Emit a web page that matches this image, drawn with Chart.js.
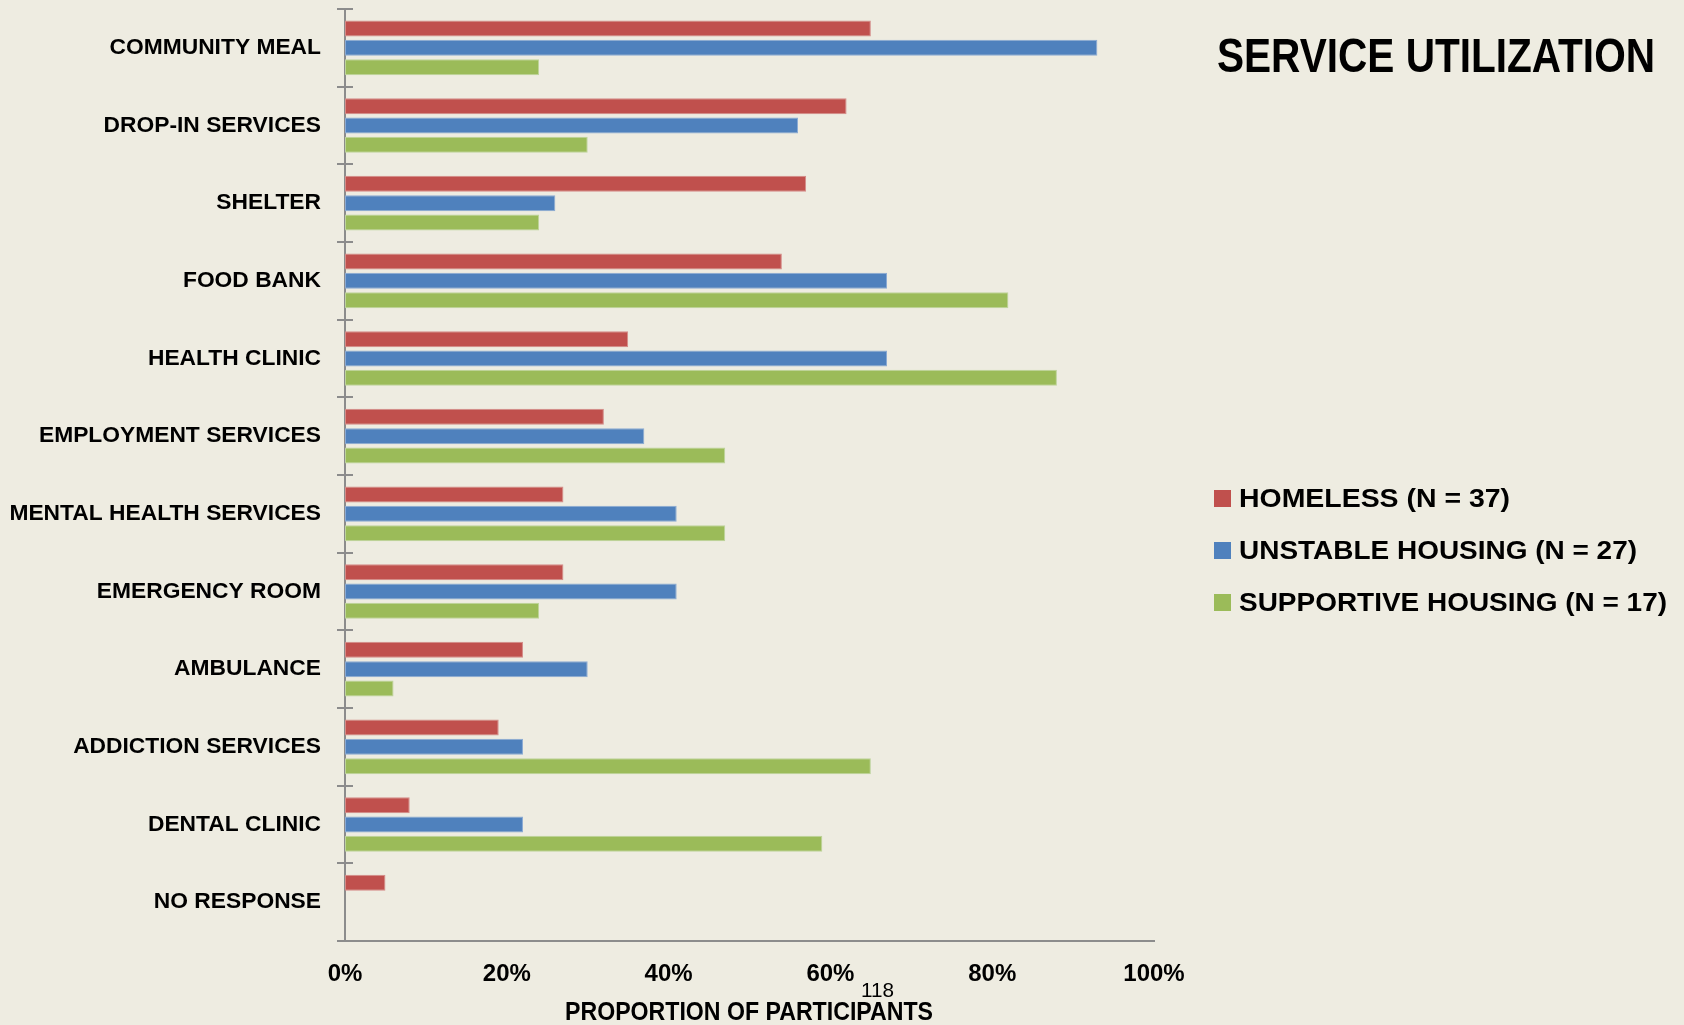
<!DOCTYPE html>
<html>
<head>
<meta charset="utf-8">
<title>Service Utilization</title>
<script src="https://cdn.jsdelivr.net/npm/chart.js@4.4.0/dist/chart.umd.min.js"></script>
<style>
  html, body { margin: 0; padding: 0; background: #EEECE1; }
  #wrap { position: relative; width: 1684px; height: 1025px; overflow: hidden; background: #EEECE1; }
  #service-chart { position: absolute; left: 0; top: 0; }
  .txt {
    position: absolute;
    white-space: nowrap;
    font-family: 'Liberation Sans', Arial, sans-serif;
    font-weight: bold;
    color: #000;
    line-height: 1;
    transform-origin: left top;
  }
  .swatch { position: absolute; width: 17px; height: 17px; }
</style>
</head>
<body>
<div id="wrap">
  <canvas id="service-chart" width="1684" height="1025"></canvas>
  <div id="chart-title" class="txt" style="left:1217px; top:31.8px; font-size:47.5px;">SERVICE UTILIZATION</div>
  <div id="legend"></div>
  <div id="axis-title" class="txt" style="top:998.8px; font-size:25px;">PROPORTION OF PARTICIPANTS</div>
  <div id="page-no" class="txt" style="top:979.2px; font-size:21px; font-weight:normal;">118</div>
</div>

<script>
const categories = [
    'COMMUNITY MEAL', 'DROP-IN SERVICES', 'SHELTER', 'FOOD BANK', 'HEALTH CLINIC',
    'EMPLOYMENT SERVICES', 'MENTAL HEALTH SERVICES', 'EMERGENCY ROOM', 'AMBULANCE',
    'ADDICTION SERVICES', 'DENTAL CLINIC', 'NO RESPONSE'
];

// percent of participants in each group who used the service
const homeless   = [65, 62, 57, 54, 35, 32, 27, 27, 22, 19, 8, 5];
const unstable   = [93, 56, 26, 67, 67, 37, 41, 41, 30, 22, 22, 0];
const supportive = [24, 30, 24, 82, 88, 47, 47, 24, 6, 65, 59, 0];

const seriesLabels = ['HOMELESS (N = 37)', 'UNSTABLE HOUSING (N = 27)', 'SUPPORTIVE HOUSING (N = 17)'];
const seriesColors = ['#C0504D', '#4F81BD', '#9BBB59'];
const seriesEdges  = ['#D48B88', '#8BAAD3', '#BDD39B'];

const xTicks = [0, 20, 40, 60, 80, 100];

const AXIS_GREY = '#8C8C8C';
const LABEL_FONT = 'Liberation Sans';

// short marks that cross the category axis at every band edge
const categoryMarks = {
    id: 'categoryMarks',
    afterDraw(chart) {
        const { ctx, scales: { x, y } } = chart;
        ctx.save();
        ctx.strokeStyle = AXIS_GREY;
        ctx.lineWidth = 2;
        for (let i = 0; i <= categories.length; i++) {
            const py = Math.round(y.getPixelForValue(i - 0.5));
            ctx.beginPath();
            ctx.moveTo(x.left - 8, py);
            ctx.lineTo(x.left + 8, py);
            ctx.stroke();
        }
        ctx.restore();
    }
};

function buildChart() {
    const canvas = document.getElementById('service-chart');
    const series = [homeless, unstable, supportive];

    return new Chart(canvas, {
        type: 'bar',
        data: {
            labels: categories,
            datasets: series.map((values, i) => ({
                label: seriesLabels[i],
                data: values,
                backgroundColor: seriesColors[i],
                borderColor: seriesEdges[i],
                borderWidth: 1,
                borderSkipped: false,
                categoryPercentage: 0.746,
                barPercentage: 0.83
            }))
        },
        options: {
            indexAxis: 'y',
            responsive: false,
            animation: false,
            layout: {
                padding: { top: 9, right: 530, left: 0, bottom: 0 }
            },
            scales: {
                x: {
                    min: 0,
                    max: 100,
                    afterFit(scale) { scale.height = 84; },
                    afterBuildTicks(scale) {
                        scale.ticks = xTicks.map(v => ({ value: v }));
                    },
                    grid: { display: false, drawTicks: false },
                    border: { display: true, color: AXIS_GREY, width: 2 },
                    ticks: {
                        padding: 19,
                        color: '#000',
                        font: { family: LABEL_FONT, size: 24, weight: 'bold' },
                        callback: v => v + '%'
                    }
                },
                y: {
                    afterFit(scale) {
                        scale.width = 345;
                        // the label padding would otherwise push the plot down
                        scale.paddingTop = 0;
                        scale.paddingBottom = 0;
                    },
                    grid: { display: false, drawTicks: false },
                    border: { display: true, color: AXIS_GREY, width: 2 },
                    ticks: {
                        padding: 24,
                        color: '#000',
                        font: { family: LABEL_FONT, size: 22.8, weight: 'bold' }
                    }
                }
            },
            plugins: {
                legend: { display: false },
                tooltip: { enabled: false },
                title: { display: false }
            }
        },
        plugins: [categoryMarks]
    });
}

// squeeze a text block horizontally to the given width
function fitWidth(el, width) {
    const w = el.getBoundingClientRect().width;
    el.style.transform = `scaleX(${width / w})`;
}

function buildLegend() {
    const legend = document.getElementById('legend');
    const rowCenters = [498, 550, 602];
    const textWidths = [271, 398, 428];
    seriesLabels.forEach((label, i) => {
        const sw = document.createElement('div');
        sw.className = 'swatch';
        sw.style.left = '1214px';
        sw.style.top = (rowCenters[i] - 8.5) + 'px';
        sw.style.background = seriesColors[i];
        legend.appendChild(sw);

        const t = document.createElement('div');
        t.className = 'txt';
        t.style.left = '1239px';
        t.style.fontSize = '25px';
        t.style.top = (rowCenters[i] + 8.95 - 21.16) + 'px';
        t.textContent = label;
        legend.appendChild(t);
        fitWidth(t, textWidths[i]);
    });
}

function placeTexts() {
    fitWidth(document.getElementById('chart-title'), 438);

    const axisTitle = document.getElementById('axis-title');
    axisTitle.style.left = (749 - 368 / 2) + 'px';
    fitWidth(axisTitle, 368);

    const pageNo = document.getElementById('page-no');
    pageNo.style.left = (877 - 33 / 2) + 'px';
    fitWidth(pageNo, 33);
}

buildChart();
buildLegend();
placeTexts();
</script>
</body>
</html>
